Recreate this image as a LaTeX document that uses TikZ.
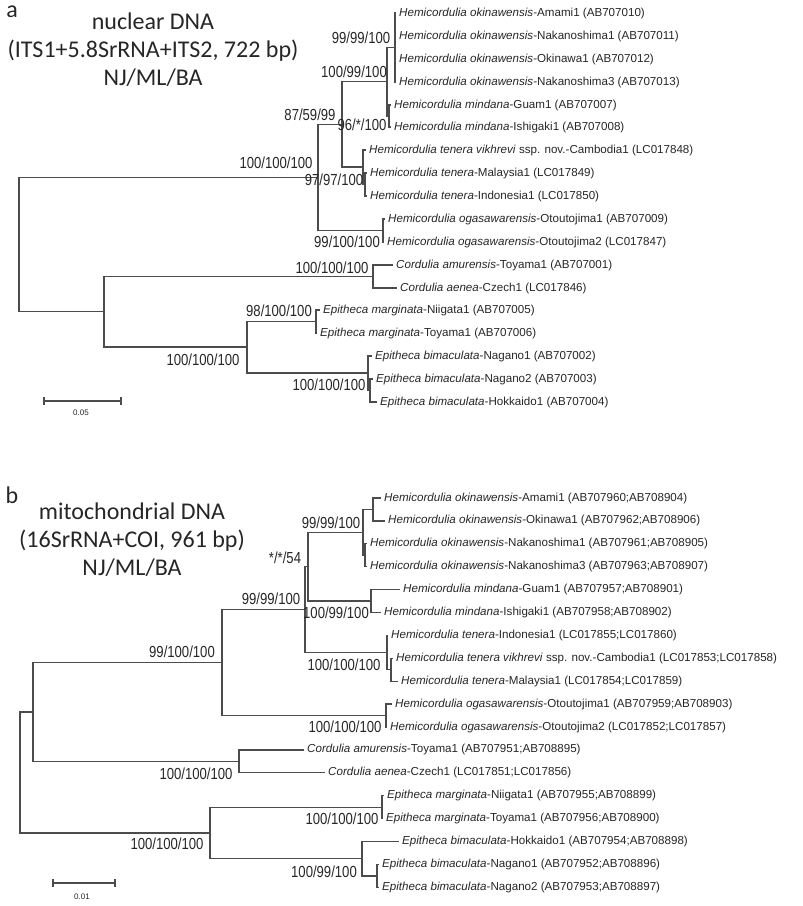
\documentclass[tikz,border=0pt]{standalone}
\usepackage{fontspec}
\setmainfont{Liberation Sans}
\newfontfamily\leaffont{Liberation Sans}
\newfontfamily\bootfont[FakeStretch=0.82]{Liberation Sans}
\newfontfamily\headfont{Carlito}
\usepackage{tikz}
\tikzset{
  branch/.style={draw=black!70, line width=1.25pt},
  leaf/.style={anchor=west, inner xsep=3pt, inner ysep=0pt, text height=8.4pt, text depth=2.4pt,
    font=\leaffont\fontsize{11.6}{13}\selectfont, text=black!85},
  boot/.style={inner sep=0pt, font=\bootfont\fontsize{16}{18}\selectfont, text=black!85},
  heading/.style={inner sep=0pt, align=center, font=\headfont\fontsize{24}{28}\selectfont, text=black!85},
  barlabel/.style={inner sep=0pt, font=\leaffont\fontsize{8}{9}\selectfont, text=black!85}
}

\begin{document}
\begin{tikzpicture}[x=1pt, y=-1pt]
\useasboundingbox (0,0) rectangle (803,906);

% ---------------- a : nuclear DNA
\node[heading] (pa) at (12,12) {a};
\node[heading] (ta) at (153,50) {nuclear DNA\\(ITS1+5.8SrRNA+ITS2, 722 bp)\\NJ/ML/BA};

\node[leaf] (a1) at (396,13) {\textit{Hemicordulia okinawensis}-Amami1 (AB707010)};
\node[leaf] (a2) at (396,36) {\textit{Hemicordulia okinawensis}-Nakanoshima1 (AB707011)};
\node[leaf] (a3) at (396,59) {\textit{Hemicordulia okinawensis}-Okinawa1 (AB707012)};
\node[leaf] (a4) at (396,82) {\textit{Hemicordulia okinawensis}-Nakanoshima3 (AB707013)};
\node[leaf] (a5) at (391,105) {\textit{Hemicordulia mindana}-Guam1 (AB707007)};
\node[leaf] (a6) at (391,127) {\textit{Hemicordulia mindana}-Ishigaki1 (AB707008)};
\node[leaf] (a7) at (366,150) {\textit{Hemicordulia tenera vikhrevi} ssp. nov.-Cambodia1 (LC017848)};
\node[leaf] (a8) at (367,173) {\textit{Hemicordulia tenera}-Malaysia1 (LC017849)};
\node[leaf] (a9) at (367,196) {\textit{Hemicordulia tenera}-Indonesia1 (LC017850)};
\node[leaf] (a10) at (385,219) {\textit{Hemicordulia ogasawarensis}-Otoutojima1 (AB707009)};
\node[leaf] (a11) at (384,242) {\textit{Hemicordulia ogasawarensis}-Otoutojima2 (LC017847)};
\node[leaf] (a12) at (393,265) {\textit{Cordulia amurensis}-Toyama1 (AB707001)};
\node[leaf] (a13) at (397,288) {\textit{Cordulia aenea}-Czech1 (LC017846)};
\node[leaf] (a14) at (320,310) {\textit{Epitheca marginata}-Niigata1 (AB707005)};
\node[leaf] (a15) at (317,333) {\textit{Epitheca marginata}-Toyama1 (AB707006)};
\node[leaf] (a16) at (372,356) {\textit{Epitheca bimaculata}-Nagano1 (AB707002)};
\node[leaf] (a17) at (373,379) {\textit{Epitheca bimaculata}-Nagano2 (AB707003)};
\node[leaf] (a18) at (377,402) {\textit{Epitheca bimaculata}-Hokkaido1 (AB707004)};

\coordinate (okiA) at (395,47.5);
\coordinate (minA) at (389,116);
\coordinate (n100A) at (387,81.75);
\coordinate (tsubA) at (365,184.5);
\coordinate (tenA) at (363,167);
\coordinate (n87A) at (342,124.4);
\coordinate (ogaA) at (383,230.5);
\coordinate (hemA) at (318,177.5);
\coordinate (corA) at (373,276.5);
\coordinate (marA) at (316,321.5);
\coordinate (bsubA) at (370,390.5);
\coordinate (bimA) at (368,373);
\coordinate (epiA) at (247,347);
\coordinate (cepA) at (104,311.75);
\coordinate (rootA) at (19,244.6);

\draw[branch] (rootA) |- (hemA) (rootA) |- (cepA);
\draw[branch] (hemA) |- (n87A) (hemA) |- (ogaA);
\draw[branch] (n87A) |- (n100A) (n87A) |- (tenA);
\draw[branch] (n100A) |- (okiA) (n100A) |- (minA);
\draw[branch] (okiA) |- (a1.west) (okiA) |- (a2.west) (okiA) |- (a3.west) (okiA) |- (a4.west);
\draw[branch] (minA) |- (a5.west) (minA) |- (a6.west);
\draw[branch] (tenA) |- (a7.west) (tenA) |- (tsubA);
\draw[branch] (tsubA) |- (a8.west) (tsubA) |- (a9.west);
\draw[branch] (ogaA) |- (a10.west) (ogaA) |- (a11.west);
\draw[branch] (cepA) |- (corA) (cepA) |- (epiA);
\draw[branch] (corA) |- (a12.west) (corA) |- (a13.west);
\draw[branch] (epiA) |- (marA) (epiA) |- (bimA);
\draw[branch] (marA) |- (a14.west) (marA) |- (a15.west);
\draw[branch] (bimA) |- (a16.west) (bimA) |- (bsubA);
\draw[branch] (bsubA) |- (a17.west) (bsubA) |- (a18.west);

\node[boot] (sa1) at (361,38) {99/99/100};
\node[boot] (sa2) at (354,72) {100/99/100};
\node[boot] (sa3) at (310,115) {87/59/99};
\node[boot] (sa4) at (362,125) {96/*/100};
\node[boot] (sa5) at (334,180) {97/97/100};
\node[boot] (sa6) at (276,163) {100/100/100};
\node[boot] (sa7) at (347,242) {99/100/100};
\node[boot] (sa8) at (332,268) {100/100/100};
\node[boot] (sa9) at (279,311) {98/100/100};
\node[boot] (sa10) at (203,360) {100/100/100};
\node[boot] (sa11) at (329,385) {100/100/100};

\coordinate (bara1) at (44,401);
\coordinate (bara2) at (121,401);
\draw[branch] (bara1) -- (bara2);
\draw[branch] ([yshift=4pt]bara1) -- ([yshift=-4pt]bara1);
\draw[branch] ([yshift=4pt]bara2) -- ([yshift=-4pt]bara2);
\node[barlabel] (la) at (81,413) {0.05};

% ---------------- b : mitochondrial DNA
\node[heading] (pb) at (12,495) {b};
\node[heading] (tb) at (132,540) {mitochondrial DNA\\(16SrRNA+COI, 961 bp)\\NJ/ML/BA};

\node[leaf] (b1) at (381,498) {\textit{Hemicordulia okinawensis}-Amami1 (AB707960;AB708904)};
\node[leaf] (b2) at (385,520.9) {\textit{Hemicordulia okinawensis}-Okinawa1 (AB707962;AB708906)};
\node[leaf] (b3) at (367,543.8) {\textit{Hemicordulia okinawensis}-Nakanoshima1 (AB707961;AB708905)};
\node[leaf] (b4) at (367,566.7) {\textit{Hemicordulia okinawensis}-Nakanoshima3 (AB707963;AB708907)};
\node[leaf] (b5) at (400,589.6) {\textit{Hemicordulia mindana}-Guam1 (AB707957;AB708901)};
\node[leaf] (b6) at (381,612.5) {\textit{Hemicordulia mindana}-Ishigaki1 (AB707958;AB708902)};
\node[leaf] (b7) at (388,635.4) {\textit{Hemicordulia tenera}-Indonesia1 (LC017855;LC017860)};
\node[leaf] (b8) at (393,658.3) {\textit{Hemicordulia tenera vikhrevi} ssp. nov.-Cambodia1 (LC017853;LC017858)};
\node[leaf] (b9) at (398,681.2) {\textit{Hemicordulia tenera}-Malaysia1 (LC017854;LC017859)};
\node[leaf] (b10) at (392,704.1) {\textit{Hemicordulia ogasawarensis}-Otoutojima1 (AB707959;AB708903)};
\node[leaf] (b11) at (387,727) {\textit{Hemicordulia ogasawarensis}-Otoutojima2 (LC017852;LC017857)};
\node[leaf] (b12) at (304,749.9) {\textit{Cordulia amurensis}-Toyama1 (AB707951;AB708895)};
\node[leaf] (b13) at (325,772.8) {\textit{Cordulia aenea}-Czech1 (LC017851;LC017856)};
\node[leaf] (b14) at (384,795.7) {\textit{Epitheca marginata}-Niigata1 (AB707955;AB708899)};
\node[leaf] (b15) at (383,818.6) {\textit{Epitheca marginata}-Toyama1 (AB707956;AB708900)};
\node[leaf] (b16) at (399,841.5) {\textit{Epitheca bimaculata}-Hokkaido1 (AB707954;AB708898)};
\node[leaf] (b17) at (379,864.4) {\textit{Epitheca bimaculata}-Nagano1 (AB707952;AB708896)};
\node[leaf] (b18) at (379,887.3) {\textit{Epitheca bimaculata}-Nagano2 (AB707953;AB708897)};

\coordinate (oabB) at (373,509.5);
\coordinate (onkB) at (365,555.3);
\coordinate (okiB) at (363,532.4);
\coordinate (minB) at (371,601);
\coordinate (n54B) at (308,566.7);
\coordinate (tsubB) at (391,669.8);
\coordinate (tenB) at (387,652.6);
\coordinate (n99B) at (305,609.7);
\coordinate (ogaB) at (386,715.6);
\coordinate (hemB) at (222,662.6);
\coordinate (corB) at (239,761.4);
\coordinate (hcB) at (33,712);
\coordinate (marB) at (382,807.2);
\coordinate (nsubB) at (377,875.9);
\coordinate (bimB) at (362,858.7);
\coordinate (epiB) at (210,833);
\coordinate (rootB) at (20,772.5);

\draw[branch] (rootB) |- (hcB) (rootB) |- (epiB);
\draw[branch] (hcB) |- (hemB) (hcB) |- (corB);
\draw[branch] (hemB) |- (n99B) (hemB) |- (ogaB);
\draw[branch] (n99B) |- (n54B) (n99B) |- (tenB);
\draw[branch] (n54B) |- (okiB) (n54B) |- (minB);
\draw[branch] (okiB) |- (oabB) (okiB) |- (onkB);
\draw[branch] (oabB) |- (b1.west) (oabB) |- (b2.west);
\draw[branch] (onkB) |- (b3.west) (onkB) |- (b4.west);
\draw[branch] (minB) |- (b5.west) (minB) |- (b6.west);
\draw[branch] (tenB) |- (b7.west) (tenB) |- (tsubB);
\draw[branch] (tsubB) |- (b8.west) (tsubB) |- (b9.west);
\draw[branch] (ogaB) |- (b10.west) (ogaB) |- (b11.west);
\draw[branch] (corB) |- (b12.west) (corB) |- (b13.west);
\draw[branch] (epiB) |- (marB) (epiB) |- (bimB);
\draw[branch] (marB) |- (b14.west) (marB) |- (b15.west);
\draw[branch] (bimB) |- (b16.west) (bimB) |- (nsubB);
\draw[branch] (nsubB) |- (b17.west) (nsubB) |- (b18.west);

\node[boot] (sb1) at (182,652) {99/100/100};
\node[boot] (sb2) at (271,599) {99/99/100};
\node[boot] (sb3) at (285,558) {*/*/54};
\node[boot] (sb4) at (331,523) {99/99/100};
\node[boot] (sb5) at (336,613) {100/99/100};
\node[boot] (sb6) at (344,665) {100/100/100};
\node[boot] (sb7) at (345,727) {100/100/100};
\node[boot] (sb8) at (196,774) {100/100/100};
\node[boot] (sb9) at (167,844) {100/100/100};
\node[boot] (sb10) at (342,819) {100/100/100};
\node[boot] (sb11) at (324,872) {100/99/100};

\coordinate (barb1) at (53,883);
\coordinate (barb2) at (115,883);
\draw[branch] (barb1) -- (barb2);
\draw[branch] ([yshift=4pt]barb1) -- ([yshift=-4pt]barb1);
\draw[branch] ([yshift=4pt]barb2) -- ([yshift=-4pt]barb2);
\node[barlabel] (lb) at (82,897) {0.01};

\end{tikzpicture}
\end{document}
